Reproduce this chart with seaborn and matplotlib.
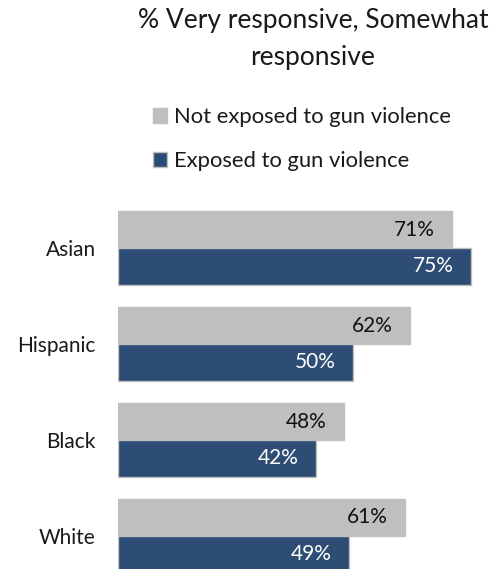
import matplotlib
matplotlib.use('Agg')
import matplotlib.pyplot as plt
import pandas as pd
import seaborn as sns

# chart values
groups = ["Asian", "Hispanic", "Black", "White"]
series = ["Not exposed to gun violence", "Exposed to gun violence"]
not_exposed = [71, 62, 48, 61]
exposed = [75, 50, 42, 49]
colors = ["#BFBFBF", "#2E4D74"]

df = pd.DataFrame({
    "group": groups * 2,
    "series": [series[0]] * len(groups) + [series[1]] * len(groups),
    "value": not_exposed + exposed,
})

sns.set_theme(style='white')
plt.rcParams['font.family'] = ['Lato', 'DejaVu Sans']

fig = plt.figure(figsize=(5.04, 5.69), dpi=100)
ax = fig.add_axes([118 / 504, 0, 1 - 118 / 504, 1 - 200 / 569])

sns.barplot(
    data=df, x="value", y="group", hue="series", orient="h",
    order=groups, hue_order=series, palette=colors,
    width=0.77, edgecolor="#BFBFBF", linewidth=1,
    errorbar=None, saturation=1, legend=False, ax=ax
)

ax.set_xlim(0, 82)
ax.set_ylim(3.344, -0.5)
ax.set_xlabel("")
ax.set_ylabel("")
ax.set_xticks([])
ax.tick_params(axis="y", length=0, pad=16, labelsize=15, labelcolor="#1a1a1a")
sns.despine(ax=ax, left=True, bottom=True)

text_colors = ["#111111", "white"]
for container, vals, tc in zip(ax.containers, [not_exposed, exposed], text_colors):
    ax.bar_label(container, labels=[f"{v}%" for v in vals], label_type="edge",
                 padding=-42, color=tc, fontsize=15)

fig.text(313 / 504, 1 - 8 / 569, "% Very responsive, Somewhat\nresponsive",
         ha="center", va="top", fontsize=19, linespacing=1.62, color="#1a1a1a")

handles = [plt.Rectangle((0, 0), 1, 1, facecolor=c, edgecolor="#BFBFBF", linewidth=1) for c in colors]
fig.legend(handles, series, loc="upper left", bbox_to_anchor=(153 / 504, 1 - 107 / 569),
           frameon=False, fontsize=15.8, handlelength=0.65, handleheight=0.65,
           handletextpad=0.3, labelspacing=1.1, borderaxespad=0, borderpad=0,
           labelcolor="#1a1a1a")

fig.savefig("out.png", dpi=100)
